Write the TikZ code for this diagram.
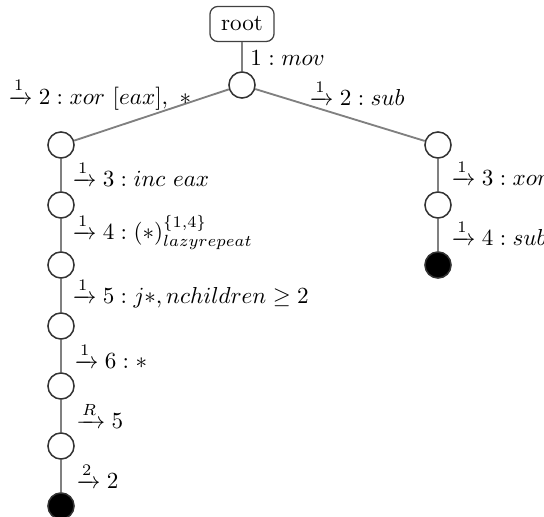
\documentclass[tikz,border=0pt]{standalone}
\usepackage{amsmath,amssymb}
\begin{document}
\begin{tikzpicture}[x=0.433pt,y=-0.433pt,
  st/.style={circle,draw=black!80,fill=white,line width=0.65pt,minimum size=11.3pt,inner sep=0pt},
  fin/.style={st,fill=black},
  tedge/.style={draw=black!50,line width=0.8pt},
  lab/.style={anchor=west,inner sep=0pt}]
\useasboundingbox (0,0) rectangle (544,517);
\node[draw=black!75,line width=0.55pt,rounded corners=3.5pt,minimum width=27.8pt,minimum height=15.2pt,inner sep=1.5pt] (root) at (242,24) {root};
\node[st] (n1) at (242,85) {};
\node[st] (l2) at (61,145) {};
\node[st] (l3) at (61,205) {};
\node[st] (l4) at (61,265) {};
\node[st] (l5) at (61,326) {};
\node[st] (l6) at (61,386) {};
\node[st] (l7) at (61,446) {};
\node[fin] (l8) at (61,506) {};
\node[st] (r2) at (438,145) {};
\node[st] (r3) at (438,205) {};
\node[fin] (r4) at (438,265) {};
\draw[tedge] (root) -- (n1);
\draw[tedge] (n1) -- (l2);
\draw[tedge] (n1) -- (r2);
\draw[tedge] (l2) -- (l3);
\draw[tedge] (l3) -- (l4);
\draw[tedge] (l4) -- (l5);
\draw[tedge] (l5) -- (l6);
\draw[tedge] (l6) -- (l7);
\draw[tedge] (l7) -- (l8);
\draw[tedge] (r2) -- (r3);
\draw[tedge] (r3) -- (r4);
\node[lab] (t1) at (250,58) {$1 : mov$};
\node[lab] (t2a) at (8,94) {$\xrightarrow{1} 2 : xor\ [eax],\ *$};
\node[lab] (t2b) at (309,93) {$\xrightarrow{1} 2 : sub$};
\node[lab] (t3) at (72,174) {$\xrightarrow{1} 3 : inc\ eax$};
\node[lab] (t4) at (72,232) {$\xrightarrow{1} 4 : (*)^{\{1,4\}}_{lazyrepeat}$};
\node[lab] (t5) at (72,293) {$\xrightarrow{1} 5 : j*, nchildren \geq 2$};
\node[lab] (t6) at (74,356) {$\xrightarrow{1} 6 : *$};
\node[lab] (t7) at (76,415) {$\xrightarrow{R} 5$};
\node[lab] (t8) at (76,476) {$\xrightarrow{2} 2$};
\node[lab] (t9) at (451,173) {$\xrightarrow{1} 3 : xor$};
\node[lab] (t10) at (451,233) {$\xrightarrow{1} 4 : sub$};
\end{tikzpicture}
\end{document}
